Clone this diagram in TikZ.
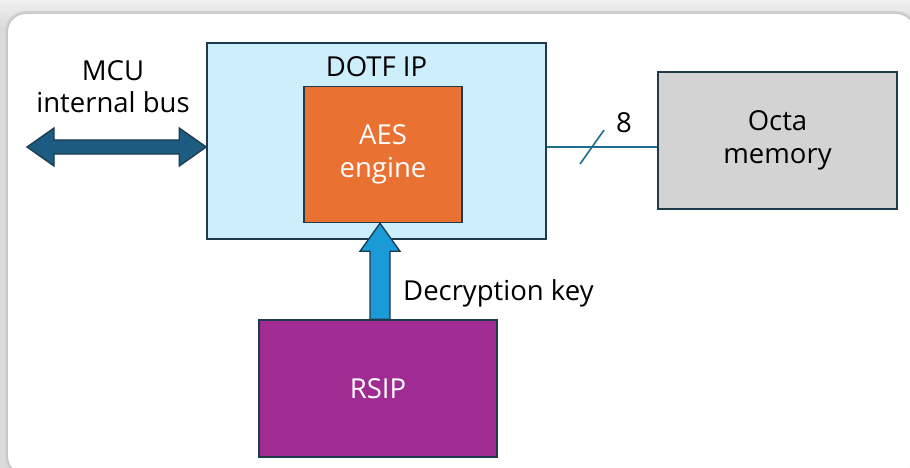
\documentclass[tikz,border=0pt]{standalone}
\usepackage{fontspec}
\setmainfont{Open Sans}
\usepackage{xcolor}
\usetikzlibrary{positioning,calc}
\definecolor{edgeblue}{HTML}{1E3A4C}
\definecolor{dotfblue}{HTML}{CDEEFB}
\definecolor{aesorange}{HTML}{E97132}
\definecolor{octagray}{HTML}{D3D3D3}
\definecolor{rsippurple}{HTML}{A02B93}
\definecolor{busblue}{HTML}{1B5C80}
\definecolor{keyblue}{HTML}{1A9AD6}
\definecolor{linkteal}{HTML}{1F6F8B}
\begin{document}
\begin{tikzpicture}[
  x=1pt, y=-1pt,
  box/.style={rectangle, draw=edgeblue, line width=1.5pt, align=center, inner sep=0pt, font=\fontsize{27.5}{33}\selectfont},
  caption/.style={align=center, inner sep=0pt, font=\fontsize{27.5}{32}\selectfont},
  fatarrow/.style={draw=edgeblue, line width=1.3pt, line join=miter},
  link/.style={draw=linkteal, line width=1.6pt}
]
\useasboundingbox (0,0) rectangle (910,468);
% backdrop and card
\shade[top color=gray!12, bottom color=gray!30] (0,0) rectangle (910,30);
\fill[gray!28] (0,30) rectangle (910,468);
\draw[gray!36, line width=6pt, rounded corners=18pt] (8,14) rectangle (914,474);
\draw[gray!48, line width=2pt, rounded corners=18pt] (8,14) rectangle (914,474);
\fill[white, rounded corners=18pt] (8,14) rectangle (914,474);
% blocks
\node[box, fill=dotfblue, minimum width=339pt, minimum height=196pt] (dotf) at (376.5,141) {};
\node[caption, anchor=north, yshift=-14pt] (dotflabel) at (dotf.north) {DOTF IP};
\node[box, fill=aesorange, text=white, minimum width=158pt, minimum height=136pt] (aes) at (383,154.5) {AES\\engine};
\node[box, fill=octagray, minimum width=239pt, minimum height=137pt] (octa) at (777.5,140.5) {Octa\\memory};
\node[box, fill=rsippurple, text=white, minimum width=238pt, minimum height=137pt] (rsip) at (378,388.5) {RSIP};
\node[caption] (buslabel) at (113,87) {MCU\\internal bus};
\node[caption, anchor=west] (keylabel) at (403,293) {Decryption key};
% MCU bus
\coordinate (busR) at ([yshift=-6pt]dotf.west);
\coordinate (busL) at (27,147);
\draw[fatarrow, fill=busblue] (busL) -- ($(busL)+(27,-19)$) -- ($(busL)+(27,-7)$) -- ($(busR)+(-27,-7)$) -- ($(busR)+(-27,-19)$) -- (busR) -- ($(busR)+(-27,19)$) -- ($(busR)+(-27,7)$) -- ($(busL)+(27,7)$) -- ($(busL)+(27,19)$) -- cycle;
% key path
\coordinate (keytip) at ([xshift=-3pt]aes.south);
\coordinate (keytail) at (keytip |- rsip.north);
\draw[fatarrow, fill=keyblue] ($(keytail)+(-10,0)$) -- ($(keytip)+(-10,28)$) -- ($(keytip)+(-20,28)$) -- (keytip) -- ($(keytip)+(20,28)$) -- ($(keytip)+(10,28)$) -- ($(keytail)+(10,0)$) -- cycle;
% memory link, 8 bits
\draw[link] ([yshift=-6pt]dotf.east) -- ([yshift=-6.5pt]octa.west) coordinate[pos=0.41] (slash);
\draw[link] ($(slash)+(-12,17)$) -- ($(slash)+(12,-17)$);
\node[caption] (width) at (624,123) {8};
\end{tikzpicture}
\end{document}
